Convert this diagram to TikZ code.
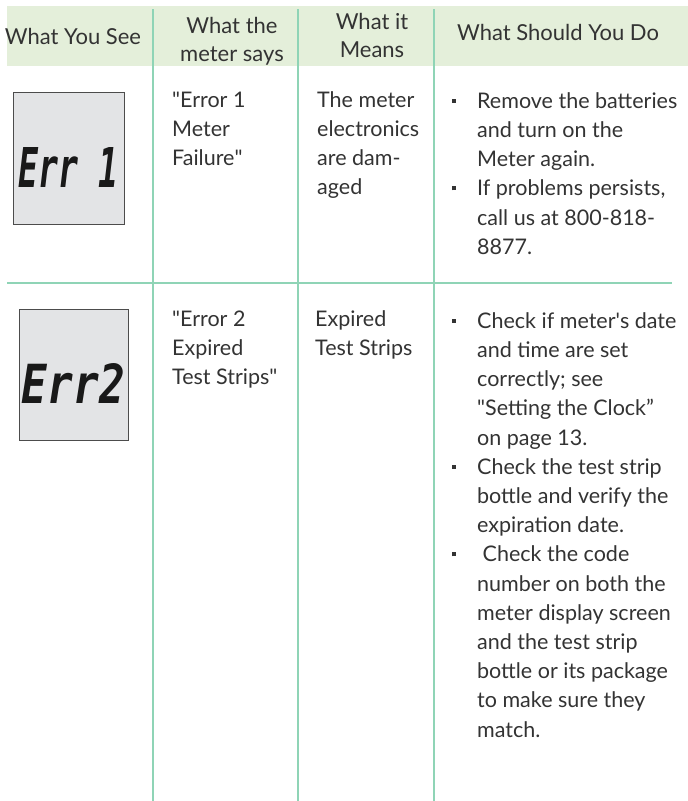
\documentclass[tikz,border=0pt]{standalone}
\usepackage{fontspec}
\setmainfont{Lato}
\newfontfamily\lcdfont{DejaVu Sans Mono}
\usepackage{xcolor}
\usetikzlibrary{positioning}
\definecolor{bandgreen}{RGB}{228,239,218}
\definecolor{gridgreen}{RGB}{143,212,182}
\definecolor{lcdgray}{RGB}{227,228,230}
\definecolor{inkgray}{RGB}{51,51,51}
\newcommand{\bitem}{\makebox[25pt][l]{\rule[5.5pt]{4pt}{4pt}}}
\newcommand{\bcont}{\hspace*{25pt}}
\tikzset{
  headbig/.style={font=\fontsize{22}{28}\selectfont, anchor=base, inner sep=0pt, text=inkgray},
  headcell/.style={font=\fontsize{22}{28}\selectfont, align=center, anchor=north, inner sep=0pt, text=inkgray},
  bodycell/.style={font=\fontsize{21.5}{29.2}\selectfont, align=left, anchor=north west, inner sep=0pt, text=inkgray},
  lcdbox/.style={draw=black!70, line width=0.8pt, fill=lcdgray, inner sep=0pt},
  lcdtext/.style={inner sep=0pt, text=black!90, font=\lcdfont\bfseries\itshape},
  gridline/.style={draw=gridgreen, line width=1.5pt}
}
\begin{document}
\begin{tikzpicture}[x=1pt,y=-1pt,line cap=butt]
\useasboundingbox (0,0) rectangle (688,801);
\fill [bandgreen] (7,6) rectangle (688,66);
\draw [gridline] (153,9) -- (153,801);
\draw [gridline] (298,9) -- (298,801);
\draw [gridline] (434,9) -- (434,801);
\draw [gridline] (7,283) -- (672,283);
\node [headbig] (hsee) at (73,44) {What You See};
\node [headcell] (hsays) at (232,13.4) {\strut What the\\meter says};
\node [headcell] (hmeans) at (372,9.4) {\strut What it\\Means};
\node [headbig] (hdo) at (558,40) {What Should You Do};
\node [lcdbox, minimum width=111pt, minimum height=132pt] (lcdone) at (68.5,158.5) {};
\node [lcdtext] (errone) at (69,167) {\resizebox{100pt}{40pt}{Err 1}};
\node [bodycell] (saysone) at (172,86.6) {\strut\textquotedbl Error 1\\Meter\\Failure\textquotedbl};
\node [bodycell] (meansone) at (317,86.6) {\strut The meter\\electronics\\are dam-\\aged};
\node [bodycell] (doone) at (452,87.6) {\strut\bitem Remove the batteries\\
\bcont and turn on the\\
\bcont Meter again.\\
\bitem If problems persists,\\
\bcont call us at 800-818-\\
\bcont 8877.};
\node [lcdbox, minimum width=109pt, minimum height=131pt] (lcdtwo) at (73.5,374.5) {};
\node [lcdtext] (errtwo) at (73.5,383) {\resizebox{103pt}{40pt}{Err2}};
\node [bodycell] (saystwo) at (172,305.6) {\strut\textquotedbl Error 2\\Expired\\Test Strips\textquotedbl};
\node [bodycell] (meanstwo) at (315,305.6) {\strut Expired\\Test Strips};
\node [bodycell] (dotwo) at (452,307.6) {\strut\bitem Check if meter\textquotesingle s date\\
\bcont and time are set\\
\bcont correctly; see\\
\bcont \textquotedbl Setting the Clock”\\
\bcont on page 13.\\
\bitem Check the test strip\\
\bcont bottle and verify the\\
\bcont expiration date.\\
\bitem \ Check the code\\
\bcont number on both the\\
\bcont meter display screen\\
\bcont and the test strip\\
\bcont bottle or its package\\
\bcont to make sure they\\
\bcont match.};
\end{tikzpicture}
\end{document}
